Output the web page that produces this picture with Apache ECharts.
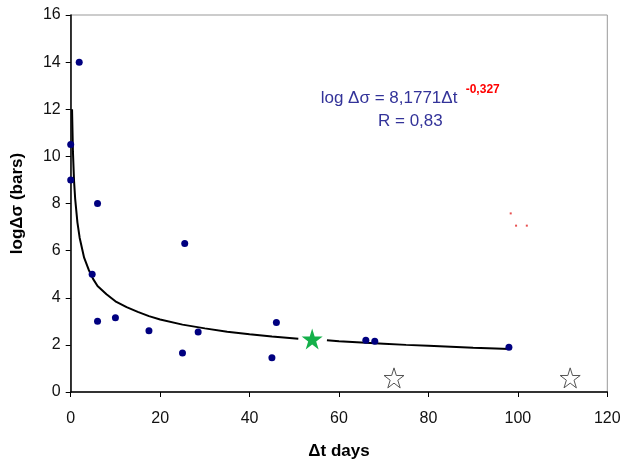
<!DOCTYPE html>
<html>
<head>
<meta charset="utf-8">
<script src="https://cdn.jsdelivr.net/npm/echarts@6/dist/echarts.min.js"></script>
<style>html,body{margin:0;padding:0;background:#fff;}#c{width:622px;height:462px;}</style>
</head>
<body>
<div id="c"></div>
<script>
// Observed data points
var dtDays   = [0, 0, 1.9, 4.8, 6, 6, 10, 17.5, 25, 25.5, 28.5, 45, 46, 66, 68, 98];
var logSigma = [10.5, 9.0, 14.0, 5.0, 8.0, 3.0, 3.15, 2.6, 1.65, 6.3, 2.55, 1.45, 2.95, 2.2, 2.15, 1.9];
// Green star
var starX = [54];
var starY = [2.25];
// Hollow stars
var hollowX = [72.3, 111.7];
var hollowY = [0.6, 0.6];
// Trend curve (left part, right part)
var curveLX = [0.3, 0.5, 0.75, 1, 1.5, 2, 3, 4, 5, 6, 8, 10, 12.5, 15, 17.5, 20, 25, 30, 35, 40, 45, 50.9];
var curveLY = [12.0, 10.2, 8.95, 8.2, 7.2, 6.55, 5.7, 5.2, 4.8, 4.5, 4.15, 3.85, 3.6, 3.4, 3.22, 3.08, 2.86, 2.7, 2.56, 2.45, 2.36, 2.26];
var curveRX = [57.3, 60, 65, 70, 75, 80, 85, 90, 95, 98];
var curveRY = [2.2, 2.15, 2.1, 2.05, 2.0, 1.96, 1.92, 1.88, 1.85, 1.83];
// Small red specks
var speckX = [98.4, 99.6, 102.0];
var speckY = [7.58, 7.06, 7.06];
// Ticks
var xTicks = [0, 20, 40, 60, 80, 100, 120];
var yTicks = [0, 2, 4, 6, 8, 10, 12, 14, 16];

function zip(a, b) { return a.map(function (v, i) { return [v, b[i]]; }); }

var starPath = 'path://M50,0 L61.2,34.5 L97.6,34.5 L68.2,55.9 L79.4,90.5 L50,69.1 L20.6,90.5 L31.8,55.9 L2.4,34.5 L38.8,34.5 Z';
var font = '"Liberation Sans", Arial, sans-serif';

var chart = echarts.init(document.getElementById('c'));
chart.setOption({
  animation: false,
  backgroundColor: '#fff',
  grid: { left: 70.7, right: 14.7, top: 15, bottom: 70, containLabel: false, outerBoundsMode: 'none', show: true, borderColor: '#999', borderWidth: 1 },
  xAxis: {
    type: 'value', min: xTicks[0], max: xTicks[xTicks.length - 1], interval: 20,
    name: 'Δt days', nameLocation: 'middle', nameGap: 51,
    nameTextStyle: { fontFamily: font, fontSize: 17, fontWeight: 'bold', color: '#000' },
    axisLine: { show: true, onZero: false, lineStyle: { color: '#000', width: 1.5 } },
    axisTick: { show: true, inside: false, length: 5, lineStyle: { color: '#000', width: 1 } },
    axisLabel: { fontFamily: font, fontSize: 16, color: '#111', margin: 19 },
    splitLine: { show: false }
  },
  yAxis: {
    type: 'value', min: yTicks[0], max: yTicks[yTicks.length - 1], interval: 2,
    name: 'logΔσ (bars)', nameLocation: 'middle', nameGap: 45,
    nameTextStyle: { fontFamily: font, fontSize: 17, fontWeight: 'bold', color: '#000' },
    axisLine: { show: true, onZero: false, lineStyle: { color: '#000', width: 1.5 } },
    axisTick: { show: true, inside: false, length: 5, lineStyle: { color: '#000', width: 1 } },
    axisLabel: { fontFamily: font, fontSize: 16, color: '#111', margin: 10 },
    splitLine: { show: false }
  },
  series: [
    { type: 'line', data: zip(curveLX, curveLY), showSymbol: false, symbol: 'none', lineStyle: { color: '#000', width: 2 }, z: 2 },
    { type: 'line', data: zip(curveRX, curveRY), showSymbol: false, symbol: 'none', lineStyle: { color: '#000', width: 2 }, z: 2 },
    { type: 'scatter', data: zip(dtDays, logSigma), symbol: 'circle', symbolSize: 7, itemStyle: { color: '#000080', opacity: 1 }, clip: false, z: 3 },
    { type: 'scatter', data: zip(starX, starY), symbol: starPath, symbolSize: 21, itemStyle: { color: '#14b04a', opacity: 1 }, z: 4 },
    { type: 'scatter', data: zip(hollowX, hollowY), symbol: starPath, symbolSize: 20, itemStyle: { color: '#fff', borderColor: '#555', borderWidth: 1, opacity: 1 }, z: 4 },
    { type: 'scatter', data: zip(speckX, speckY), symbol: 'rect', symbolSize: 2, itemStyle: { color: '#e85050', opacity: 1 }, z: 4 }
  ],
  graphic: [
    { type: 'text', left: 320.7, top: 90, style: { text: 'log Δσ = 8,1771Δt', font: '17px ' + font, fill: '#333399' } },
    { type: 'text', left: 465.7, top: 84, style: { text: '-0,327', font: 'bold 12px ' + font, fill: '#ff0000' } },
    { type: 'text', left: 378, top: 113, style: { text: 'R = 0,83', font: '17px ' + font, fill: '#333399' } }
  ]
});
</script>
</body>
</html>
